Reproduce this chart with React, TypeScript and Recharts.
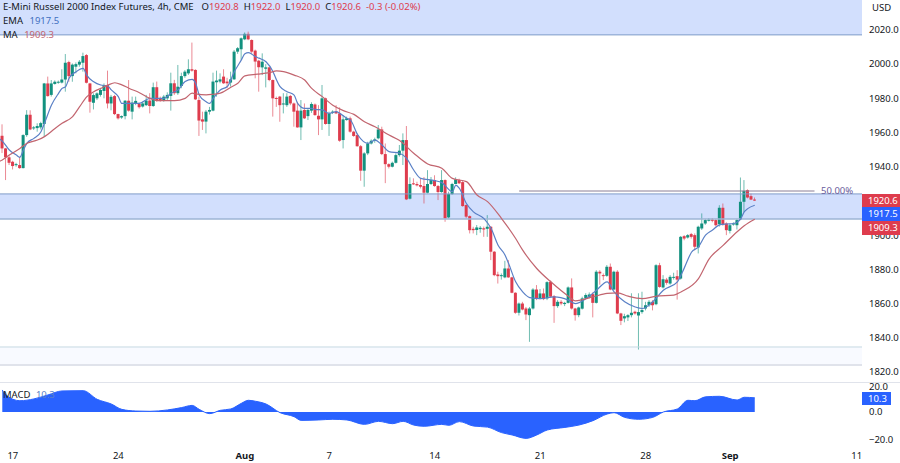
import {
  Area,
  Bar,
  ComposedChart,
  Line,
  ReferenceArea,
  ReferenceLine,
  XAxis,
  YAxis,
} from "recharts";

// 4h bars, first bar sits three bars before the "17" tick
const firstBar = -3;

const opens = [
  1958.1,1950.7,1945.5,1942.9,1941,1941,1939.2,1958.5,1970.4,1962.4,
  1962.6,1963,1965,1988.7,1982,1988.4,1989.2,1989.2,1991,2001.2,
  1993,1998.5,1999.7,2000.8,2005.3,1988.7,1977.4,1980,1982,1984.3,
  1987.8,1977,1981.3,1970.8,1968.8,1969.6,1978.6,1972.2,1976.7,1976.7,
  1975.2,1976,1978.7,1975.5,1986.5,1980,1979,1980,1981.4,1988.8,
  1983,1987.2,1993,1994.6,1997,1996.6,1979,1967.7,1966.4,1972.2,
  1972.8,1989.4,1989.8,1992.7,1989.8,1989.2,1991.1,2007.3,2008.7,2014.5,
  2017.7,2014.1,2007.9,2002,1998.1,1997.3,1998.1,1990.7,1980.2,1981,
  1976.4,1976,1981.4,1977,1972.8,1963,1973.2,1969.6,1972.8,1976.4,
  1969.8,1967.7,1980,1965,1971.6,1972.2,1971.2,1955.6,1967.3,1968.3,
  1960.5,1958.5,1952,1937.7,1947.8,1953.6,1955.2,1956.6,1961.8,1947.4,
  1941.5,1940,1942.3,1946.8,1949.4,1955.6,1921.3,1930.3,1929.9,1929.3,
  1928.7,1924.8,1929.9,1932.2,1928.7,1925.2,1932.2,1910.4,1924,1929.9,
  1932.2,1931,1917.6,1911.1,1903.7,1903,1903.5,1904,1903.7,1904.9,
  1890.3,1877,1876,1875.3,1880.5,1875.3,1866.3,1854.6,1860,1857.1,
  1853.2,1857.1,1868.2,1863,1865.9,1863,1872.7,1864.3,1858.5,1861,
  1859.7,1860.4,1869.4,1857.1,1853.2,1857,1863,1863.6,1865.5,1860.4,
  1878.6,1876.6,1876.2,1881.5,1868.2,1878.6,1854.2,1851.3,1851.9,1853.2,
  1855.2,1853,1855,1857.1,1859,1861,1859.6,1882.4,1869.4,1874,
  1871.7,1875.2,1876,1874.6,1899.4,1898.6,1900.6,1900,1892.8,1903.9,
  1906.8,1908.4,1909.1,1908.8,1906.4,1916,1906.8,1902.5,1906.2,1905.8,
  1909.1,1919.5,1926.3,1922.8,1920.8,
];
const highs = [
  1964.8,1951,1946.8,1943.5,1942.3,1945.8,1959,1973.1,1973,1963.8,
  1965.4,1966.3,1989,1992.7,1990.7,1990.5,1990.4,1997,2005.9,2002,
  2000.4,2001,2002.4,2006.7,2005.9,1989,1982.9,1983.5,1986,1988.7,
  1996.2,1982,1982,1971,1970,1979,1990.7,1981,1981,1977.5,
  1978,1982,1983,1989.2,1989.8,1981,1982,1983.5,1995,1990.8,
  1999.5,1995,1996.5,2002.8,2012.6,1997,1981,1972.2,1973.2,1975,
  1995,1996.2,1994.6,1997,1992,1995.6,2008.3,2010,2015.6,2018.5,
  2019,2014.5,2008.5,2002.5,2006.3,2000,1998.5,1991,1981,1981.4,
  1983,1983,1982,1977.5,1978,1979,1977,1974,1977.7,1977,
  1976,1987.8,1980.4,1972.2,1973,1976,1974.7,1970.2,1969.3,1969.3,
  1961,1959.5,1952.7,1948.5,1954.6,1956,1957,1964.4,1963.4,1953.6,
  1942,1943,1947.8,1952.7,1959.5,1963.8,1933.8,1933.2,1931.2,1933.2,
  1934,1938,1934,1935,1929.3,1938,1932.6,1925.4,1930.6,1933.8,
  1933,1931.6,1918,1911.5,1904.9,1905.9,1905.3,1905,1911.7,1905.3,
  1890.7,1878.6,1877.6,1885,1885.4,1875.6,1866.6,1860.6,1861,1858,
  1858,1869,1870.8,1868.5,1868.8,1873,1873.5,1865,1862,1862,
  1861,1870,1874.7,1857.5,1858.2,1864,1866,1866.5,1866.5,1879.5,
  1879.5,1877.6,1882.5,1883.4,1879.2,1879.5,1854.6,1854,1853.8,1866,
  1855.8,1866,1866.9,1861,1862,1862,1883,1883.8,1876.6,1875,
  1876.6,1878,1879.5,1899.5,1900,1900.6,1901.3,1901,1905.5,1912.7,
  1909.5,1910,1910,1909.5,1917.5,1918.5,1907.5,1906.5,1907.5,1909.5,
  1933.7,1932.2,1926.8,1924.3,1922,
];
const lows = [
  1948,1932.2,1941,1938.4,1940,1938.8,1939,1957.5,1961.4,1961.5,
  1960.5,1961.8,1957.5,1981,1981,1988,1988.5,1988.7,1983.9,1989.7,
  1989.7,1994.6,1998.5,1995.6,1988.7,1971.6,1973.5,1979,1981,1980,
  1974.1,1973,1970.2,1967.6,1968,1967.7,1972.2,1967.7,1976,1974,
  1974.6,1975.5,1971.2,1975,1978,1978,1978,1979,1972.8,1982,
  1982,1985.9,1992,1993.7,1995.6,1979,1958,1961.5,1959.5,1970.5,
  1972.4,1981,1988.8,1988.4,1986,1986.9,1990.8,2006,2002.5,2014,
  2014,2006,1991.7,1983.9,1993.6,1986.4,1990,1969.3,1975,1966.3,
  1971.2,1975,1976,1963.4,1962.8,1955.6,1967.9,1967.3,1971.5,1969.8,
  1958.5,1961.5,1964.6,1958,1970.8,1970.8,1954.6,1950.7,1966.9,1959.9,
  1957.5,1951.7,1931.8,1928.3,1946.8,1953,1954,1956,1946.8,1930.4,
  1939,1939.6,1941.9,1945.9,1941,1920.5,1920.9,1929.3,1928.5,1927.3,
  1918.5,1924.4,1929.3,1928.3,1920.5,1924.8,1907.8,1909.8,1923.6,1929.9,
  1929.9,1916.6,1909.8,1901,1901,1900,1901.4,1899,1899,1885.4,
  1876,1871.7,1874,1874.8,1875,1866,1854,1853,1856,1850.3,
  1837.6,1856.5,1862,1862.5,1862,1862,1863.5,1848.7,1857.5,1859,
  1858.5,1860,1856.5,1850,1852,1856.5,1862.5,1863,1851.9,1860,
  1871,1873.7,1875.6,1867.8,1867.8,1853.8,1847.4,1849,1849.8,1851.9,
  1853.5,1833.1,1854,1856,1858,1856,1859,1869.2,1868.8,1871,
  1871,1874,1862.3,1874,1897,1898,1898,1891.2,1889.3,1903,
  1906,1908,1907.5,1905,1905,1905.5,1900,1901,1905.5,1903.3,
  1908.8,1913.6,1921.5,1920.5,1920,
];
const closes = [
  1950.7,1945.5,1942.3,1940.4,1941.5,1939.2,1958.5,1970.4,1961.8,1963,
  1963.8,1965.5,1988.7,1981.3,1988.7,1989.7,1989.7,1991,2000.8,1993,
  1999.7,2000,2001.4,2004.7,1989.1,1978,1981.9,1982.9,1984.9,1987.8,
  1977,1980.9,1970.8,1968.3,1969.6,1978.6,1972.8,1977.5,1978.5,1974.8,
  1977,1978.7,1975.5,1986.5,1978.7,1979,1981,1982,1988.8,1983,
  1986.8,1993,1995.6,1997,1996.2,1979.4,1967,1966.4,1972.2,1973.2,
  1989.8,1990.4,1991.1,1988.8,1988.8,1991.1,2007.3,2009.3,2015.1,2017.7,
  2014.5,2007.3,2001.5,1998.2,2001.4,1998.1,1990.7,1980,1979.7,1976,
  1977,1981,1977,1972.2,1963,1972.8,1968.3,1973.2,1976.7,1970.2,
  1967.7,1980,1965,1971.2,1972.2,1971.2,1955.2,1967.7,1968.3,1960.5,
  1958,1952,1937.7,1947.8,1953.6,1955.2,1956,1961.8,1947.4,1941.5,
  1940,1942.3,1946.8,1949.4,1955.6,1920.9,1929.9,1929.7,1929.1,1928.3,
  1924.8,1929.9,1932.2,1928.7,1925.2,1932.2,1909.8,1924,1929.9,1932.6,
  1930.3,1917,1910.8,1902.9,1902.9,1904.5,1904.3,1903.3,1904.9,1890.3,
  1876.6,1876,1876.6,1880.5,1875.3,1866.3,1854.6,1860,1856.5,1853.6,
  1857.1,1868.2,1863,1865.9,1862.6,1872.5,1864,1858.5,1861,1860,
  1860.4,1869.4,1857.1,1853.2,1857.7,1863,1865,1865.3,1860.4,1878.6,
  1877.6,1876.2,1881.5,1868.2,1878.6,1854.2,1849.9,1852.6,1853.2,1854.6,
  1854.2,1855,1856.2,1859,1861,1859,1882.4,1869.7,1874.2,1872.1,
  1875.6,1875.6,1874,1899,1898,1900,1899,1893.2,1904.9,1906.8,
  1908.8,1909.1,1908.4,1905.8,1916,1906.2,1902.9,1905.8,1906.8,1908.8,
  1919.5,1925.9,1922,1920.8,1920.6,
];

// EMA / MA at these bars only
const emaBars = [
  -3,-1,1,2,3,4,6,8,9,11,13,14,15,16,18,20,21,23,25,27,28,30,31,33,36,39,41,43,45,47,49,51,52,53,55,56,57,59,61,63,65,66,67,69,70,
  72,74,75,76,78,80,81,83,85,86,88,90,92,93,95,96,98,101,103,105,107,110,112,114,116,120,122,125,126,127,129,131,134,136,138,140,
  141,143,145,147,150,154,158,160,163,166,169,171,174,177,179,182,185,189,191,193,195,197,199,201,203,205,207,208,209,211,
];
const emaValues = [
  1955,1949.8,1946.8,1945.5,1949.8,1953.7,1956.6,1960.5,1965.4,1976.1,1982.9,1985.8,1986.8,1991.7,1995.6,1997.5,1993.6,1989.7,1987.8,1987.2,1984.9,1981,1977,1977,1977.1,1980,1980,1980,1983,1984.9,1989.8,1991.1,1988.8,1982,1978,1977,1980,1984.9,1986.9,1995.6,2002.5,2006,2006.7,2004.4,2003.5,
  2001.4,1995.6,1990.7,1986.8,1983.9,1981.9,1977,1974.1,1974.1,1973.5,1973.2,1971.2,1972.2,1971.2,1968.3,1967.4,1959,1953.7,1955.6,1952.7,1948.8,1947.9,1944.9,1938.1,1933.2,1931.9,1930.7,1925.4,1929.3,1927.3,1918.5,1913.6,1909.7,1904,1894.1,1888.3,
  1883.4,1872.7,1866.8,1863.5,1862.9,1863.9,1862,1860,1862.9,1867.8,1872.7,1866.8,1861,1858,1857.1,1861,1867.8,1872.7,1881,1890,1893.2,1900,1903,1906,1906.5,1906.8,1909.5,1913.6,1915.5,1917.5,
];
const maBars = [
  -3,-1,2,4,7,9,12,14,17,19,21,23,25,27,29,31,33,36,39,41,46,49,51,52,55,57,59,62,64,66,69,70,73,75,77,80,83,85,88,91,94,97,100,103,107,
  110,114,118,122,125,129,132,135,139,143,145,149,153,158,160,165,169,172,175,179,183,188,190,195,198,202,206,208,211,
];
const maValues = [
  1943.9,1946.8,1950.7,1953.7,1955.6,1957.6,1962.4,1965.4,1969.3,1975.1,1980.9,1983.9,1985.8,1987.7,1989.1,1987.9,1985.9,1983.3,1980,1978.7,1978.7,1980,1983,1982.6,1982,1982.4,1983,1986.5,1988.8,1993.1,1994,1994.2,1995,1996,1995.6,1993.6,1990.7,1985.8,1981,1976,1972.8,1970.6,1966.3,1963.4,1958.5,
  1955.3,1947.9,1941.6,1939.1,1933.2,1931.3,1923.5,1919.6,1909.7,1898,1891.2,1880.5,1872.7,1864.3,1861.6,1863.9,1865.9,1866.2,1864.3,1862.9,1864.3,1864.9,1866.8,1874.6,1886,1894,1902,1905.5,1909.3,
];
// both averages run in from off the left edge of the plot
const leadInEma = 1956.6;
const leadInMa = 1942.9;

const macdBars = [
  -3,-2,2,6,10,14,20,24,28,31,35,39,44,48,51,53,56,59,62,65,67,69,72,76,80,82,87,91,95,100,104,108,111,114,117,122,124,
  127,131,135,139,142,146,149,152,157,161,165,169,171,174,178,182,185,189,192,194,197,201,206,208,211,
];
const macdValues = [
  16,12.4,8.2,9.5,12.4,15.3,15.5,9.2,5.8,1.9,0.7,0.5,1.5,3.2,4.8,1.9,-1.2,1.2,2.2,6.3,8.5,7.8,5.8,-0.5,-3.4,-6.1,-5.8,-5.3,-5.8,-9,-6.8,-8.5,-6.8,-9.5,-10.4,-9,-9.7,
  -7,-10.2,-11,-15,-16.7,-19.2,-16.7,-13.1,-11.2,-9.5,-6.3,-1.5,-0.5,-3.9,-5.3,-3.9,0,2.2,8.5,8.2,11,11.4,8.7,10.7,10.3,
];

const priceTicks = [1820,1840,1860,1880,1900,1920,1940,1960,1980,2000,2020];
const macdTicks = [-20,0,20];
const timeTicks = [0,30,66,90,120,150,180,204,240];
const timeLabels = ["17","24","Aug","7","14","21","28","Sep","11"];

const rows = [
  { bar: firstBar - 1, open: null, high: null, low: null, close: null, ema: leadInEma, ma: leadInMa },
  ...opens.map((open, n) => {
    const bar = n + firstBar;
    const e = emaBars.indexOf(bar);
    const m = maBars.indexOf(bar);
    return {
      bar,
      open,
      high: highs[n],
      low: lows[n],
      close: closes[n],
      ema: e >= 0 ? emaValues[e] : null,
      ma: m >= 0 ? maValues[m] : null,
    };
  }),
];
const macdRows = macdBars.map((bar, n) => ({ bar, macd: macdValues[n] }));

const UP = "#12917f";
const DOWN = "#de3c4d";
const ZONE = "#d2dffd";
const FONT = "'Noto Sans', sans-serif";
const SIZE = 9.5;
const barDomain = [-3.65, 241.5];

const Candle = (props: any) => {
  const { x, y, width, height, payload } = props;
  if (payload.high == null) return null;
  const h = Math.abs(height);
  const range = payload.high - payload.low || 1;
  const k = h / range;
  const top = y + (payload.high - Math.max(payload.open, payload.close)) * k;
  const bodyH = Math.max(Math.abs(payload.open - payload.close) * k, 1);
  const color = payload.close >= payload.open ? UP : DOWN;
  const mid = x + width / 2;
  return (
    <g>
      <line x1={mid} x2={mid} y1={y} y2={y + h} stroke={color} strokeOpacity={0.6} strokeWidth={1} />
      <rect x={x} y={top} width={width} height={bodyH} fill={color} />
    </g>
  );
};

const TimeTick = (props: any) => {
  const { x, y, payload } = props;
  const label = timeLabels[timeTicks.indexOf(payload.value)];
  const bold = label === "Aug" || label === "Sep";
  return (
    <text x={x} y={y + 6} textAnchor="middle" fontSize={SIZE} fontFamily={FONT} fontWeight={bold ? 700 : 400} fill="#131722">
      {label}
    </text>
  );
};

const tag = (top: number, height: number, width: number, bg: string, text: string) => (
  <div
    style={{
      position: "absolute",
      left: 862,
      top,
      width,
      height,
      background: bg,
      color: "#fff",
      fontSize: SIZE,
      lineHeight: `${height}px`,
      paddingLeft: 6,
      boxSizing: "border-box",
    }}
  >
    {text}
  </div>
);

export default function App() {
  return (
    <div style={{ position: "absolute", left: 0, top: 0, width: 900, height: 463, background: "#fff", overflow: "hidden", fontFamily: FONT, color: "#131722" }}>
      <div style={{ position: "absolute", top: 0, left: 0 }}>
        <ComposedChart width={900} height={381} data={rows} margin={{ top: 0, right: 0, bottom: 0, left: 0 }}>
          <XAxis dataKey="bar" type="number" domain={barDomain} allowDataOverflow hide />
          <YAxis
            orientation="right"
            width={38}
            domain={[1814.7, 2037.5]}
            allowDataOverflow
            ticks={priceTicks}
            tickFormatter={(v: number) => v.toFixed(1)}
            tick={{ fontSize: SIZE, fill: "#131722", fontFamily: FONT }}
            tickLine={false}
            axisLine={false}
            tickSize={0}
            tickMargin={7}
          />
          <ReferenceArea y1={2017.1} y2={2037.5} fill={ZONE} fillOpacity={1} stroke="none" />
          <ReferenceArea y1={1909.5} y2={1924.1} fill={ZONE} fillOpacity={1} stroke="none" />
          <ReferenceArea y1={1824} y2={1834.6} fill="#f8faff" fillOpacity={1} stroke="none" />
          <ReferenceLine y={2017.1} stroke="#7f9cc8" strokeWidth={1} />
          <ReferenceLine y={1924.1} stroke="#7f9cc8" strokeWidth={1} />
          <ReferenceLine y={1909.5} stroke="#9db4d4" strokeWidth={1.5} />
          <ReferenceLine y={1834.6} stroke="#c6d9e2" strokeWidth={1} />
          <ReferenceLine y={1824} stroke="#e0e3eb" strokeWidth={2} />
          <ReferenceLine
            segment={[
              { x: 144, y: 1925.8 },
              { x: 228, y: 1925.8 },
            ]}
            stroke="#8a7f96"
            strokeWidth={1}
          />
          <Bar dataKey={(d: any) => [d.low, d.high]} barSize={3} shape={Candle} isAnimationActive={false} />
          <Line dataKey="ema" type="monotone" connectNulls dot={false} stroke="#5a80c6" strokeWidth={1.2} isAnimationActive={false} />
          <Line dataKey="ma" type="monotone" connectNulls dot={false} stroke="#c2656f" strokeWidth={1.2} isAnimationActive={false} />
        </ComposedChart>
      </div>

      <div style={{ position: "absolute", top: 382, left: 0 }}>
        <ComposedChart width={900} height={81} data={macdRows} margin={{ top: 0, right: 0, bottom: 0, left: 0 }}>
          <XAxis
            dataKey="bar"
            type="number"
            domain={barDomain}
            allowDataOverflow
            ticks={timeTicks}
            interval={0}
            height={18}
            tick={TimeTick}
            tickLine={false}
            axisLine={false}
          />
          <YAxis
            orientation="right"
            width={38}
            domain={[-24, 21.8]}
            allowDataOverflow
            ticks={macdTicks}
            tickFormatter={(v: number) => (v < 0 ? `\u2212${Math.abs(v).toFixed(1)}` : v.toFixed(1))}
            tick={{ fontSize: SIZE, fill: "#131722", fontFamily: FONT }}
            tickLine={false}
            axisLine={false}
            tickSize={0}
            tickMargin={7}
          />
          <Area dataKey="macd" type="monotone" baseValue={0} stroke="#2962ff" strokeWidth={1} fill="#2962ff" fillOpacity={1} isAnimationActive={false} />
        </ComposedChart>
      </div>
      <div style={{ position: "absolute", left: 0, top: 382, width: 900, height: 1, background: "#e0e3eb" }} />

      {/* legend rows */}
      <div style={{ position: "absolute", left: 3, top: 0, fontSize: SIZE, lineHeight: "14px", whiteSpace: "nowrap" }}>
        E-Mini Russell 2000 Index Futures, 4h, CME
        <span style={{ marginLeft: 8 }}>O</span><span style={{ color: DOWN }}>1920.8</span>
        <span style={{ marginLeft: 5 }}>H</span><span style={{ color: DOWN }}>1922.0</span>
        <span style={{ marginLeft: 5 }}>L</span><span style={{ color: DOWN }}>1920.0</span>
        <span style={{ marginLeft: 5 }}>C</span><span style={{ color: DOWN }}>1920.6</span>
        <span style={{ marginLeft: 5, color: DOWN }}>-0.3 (-0.02%)</span>
      </div>
      <div style={{ position: "absolute", left: 3, top: 14, fontSize: SIZE, lineHeight: "14px" }}>
        EMA <span style={{ marginLeft: 4, color: "#3f6fc0" }}>1917.5</span>
      </div>
      <div style={{ position: "absolute", left: 3, top: 28, fontSize: SIZE, lineHeight: "14px" }}>
        MA <span style={{ marginLeft: 4, color: "#c2656f" }}>1909.3</span>
      </div>
      <div style={{ position: "absolute", left: 872, top: 1, fontSize: SIZE, lineHeight: "14px" }}>USD</div>
      <div style={{ position: "absolute", left: 821, top: 184, fontSize: SIZE, lineHeight: "14px", color: "#6a5c9c" }}>50.00%</div>
      <div style={{ position: "absolute", left: 3, top: 388, fontSize: SIZE, lineHeight: "14px", whiteSpace: "nowrap" }}>
        MACD <span style={{ marginLeft: 3, color: "#5a80c6" }}>10.3</span>
      </div>

      {tag(194, 13, 38, DOWN, "1920.6")}
      {tag(207, 14, 38, "#2962ff", "1917.5")}
      {tag(221, 14, 38, DOWN, "1909.3")}
      {tag(392, 13, 29, "#2962ff", "10.3")}
    </div>
  );
}
